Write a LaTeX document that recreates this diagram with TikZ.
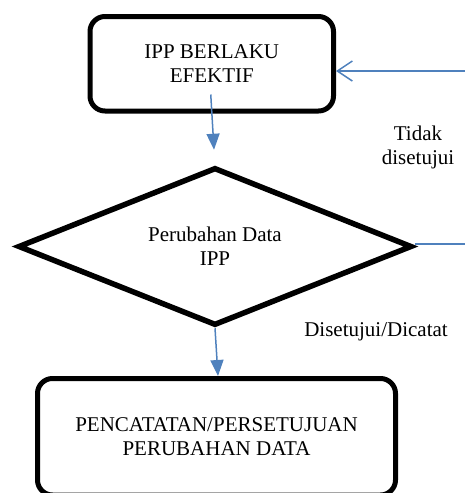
\documentclass[tikz,border=0pt]{standalone}
\usepackage{fontspec}
\setmainfont{Liberation Serif}
\usetikzlibrary{shapes.geometric,arrows.meta,calc}
\definecolor{lineblue}{RGB}{79,129,189}
\begin{document}
\begin{tikzpicture}[x=1pt,y=-1pt,
  every node/.style={font=\fontsize{21}{24}\selectfont},
  procbox/.style={draw=black,line width=5pt,rounded corners=15pt,align=center,inner sep=0pt},
  decision/.style={draw=black,line width=5.5pt,diamond,aspect=2.5,inner sep=0pt,align=center},
  flowarrow/.style={draw=lineblue,line width=1.5pt,-{Triangle[length=16pt,width=13pt]}},
  backarrow/.style={draw=lineblue,line width=1.5pt,-{Straight Barb[length=15pt,width=20pt,line width=1.5pt]}},
  plainline/.style={draw=lineblue,line width=1.5pt},
  lbl/.style={align=center,inner sep=0pt}]
\useasboundingbox (0,0) rectangle (465,493);
\node[procbox,minimum width=243.5pt,minimum height=94.5pt] (top) at (211.75,63.75) {IPP BERLAKU\\EFEKTIF};
\node[decision,minimum width=394pt,minimum height=158pt] (dia) at (215,246.5) {Perubahan Data\\IPP};
\node[procbox,minimum width=358pt,minimum height=116.5pt] (bot) at (216.5,436.75) {PENCATATAN/PERSETUJUAN\\PERUBAHAN DATA};
\coordinate (a1s) at ($(top.south)+(-1,-19)$);
\coordinate (a1e) at ($(dia.north)+(-1,-15)$);
\draw[flowarrow] (a1s) -- (a1e);
\draw[flowarrow] (dia.south) -- ($(bot.north)+(1.5,0)$);
\coordinate (r1) at (465,71);
\draw[backarrow] (r1) -- (r1 -| top.east);
\coordinate (r2) at (465,244);
\draw[plainline] (r2 -| dia.east) -- (r2);
\node[lbl] (tidak) at (418,147) {Tidak\\disetujui};
\node[lbl] (setuju) at (376,332) {Disetujui/Dicatat};
\end{tikzpicture}
\end{document}
